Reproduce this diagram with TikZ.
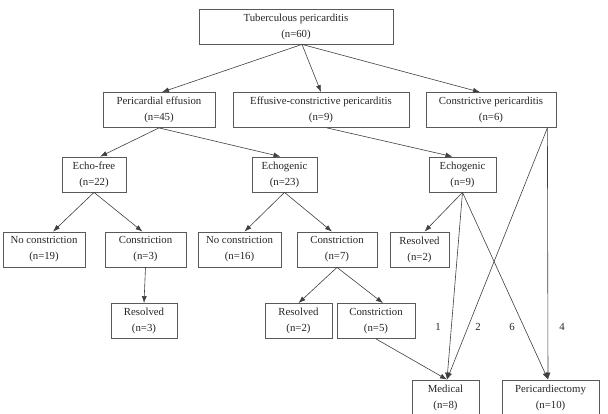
\documentclass[tikz,border=0pt]{standalone}
\usepackage{fontspec}
\setmainfont{Liberation Serif}
\usetikzlibrary{arrows.meta, calc}

\begin{document}
\begin{tikzpicture}[
  x=1pt, y=-1pt,
  box/.style = {draw=black!65, line width=0.8pt, minimum height=35pt, inner sep=1pt, align=center, text=black!85, font=\fontsize{10.8}{16}\selectfont},
  count/.style = {text=black!85, font=\fontsize{10.8}{12}\selectfont},
  arrow/.style = {draw=black!75, line width=0.6pt, -{Latex[length=7pt, width=5pt]}}
]
\path[fill=white, use as bounding box] (0,0) rectangle (608,414);

%--------------------------------------------------
% Diagnosis (top rows)
%--------------------------------------------------
\node[box, minimum width=194pt] (tp) at (296,26.5) {Tuberculous pericarditis\\(n=60)};

\node[box, minimum width=112pt] (pe) at (159,110) {Pericardial effusion\\(n=45)};
\node[box, minimum width=176pt] (ec) at (321,110) {Effusive-constrictive pericarditis\\(n=9)};
\node[box, minimum width=130pt] (cp) at (491,110) {Constrictive pericarditis\\(n=6)};

%--------------------------------------------------
% Echo findings
%--------------------------------------------------
\node[box, minimum width=64pt] (ef) at (94,174.5) {Echo-free\\(n=22)};
\node[box, minimum width=65pt] (eg23) at (284.5,174.5) {Echogenic\\(n=23)};
\node[box, minimum width=67pt] (eg9) at (462.5,174.5) {Echogenic\\(n=9)};

%--------------------------------------------------
% Outcomes
%--------------------------------------------------
\node[box, minimum width=82pt] (nc19) at (44,249.5) {No constriction\\(n=19)};
\node[box, minimum width=81pt] (c3) at (145.5,249.5) {Constriction\\(n=3)};
\node[box, minimum width=83pt] (nc16) at (239.5,249.5) {No constriction\\(n=16)};
\node[box, minimum width=80pt] (c7) at (337,249.5) {Constriction\\(n=7)};
\node[box, minimum width=59pt] (res2a) at (419.5,249.5) {Resolved\\(n=2)};

\node[box, minimum width=66pt] (res3) at (144,321) {Resolved\\(n=3)};
\node[box, minimum width=67pt] (res2b) at (298.5,321) {Resolved\\(n=2)};
\node[box, minimum width=78pt] (c5) at (376,321) {Constriction\\(n=5)};

% treatment
\node[box, minimum width=67pt] (med) at (445.5,397.5) {Medical\\(n=8)};
\node[box, minimum width=97pt] (pcd) at (550.5,397.5) {Pericardiectomy\\(n=10)};

% patient counts on the treatment lines
\node[count] (n1) at (438,327) {1};
\node[count] (n2) at (478,327) {2};
\node[count] (n6) at (512,327) {6};
\node[count] (n4) at (562,327) {4};

%--------------------------------------------------
% Connections
%--------------------------------------------------
\draw[arrow] ([xshift=6pt]tp.south) -- ([xshift=3pt]pe.north);
\draw[arrow] ([xshift=6pt]tp.south) -- (ec.north);
\draw[arrow] ([xshift=6pt]tp.south) -- ([xshift=-11pt]cp.north);

\draw[arrow] (pe.south) -- ([xshift=6pt]ef.north);
\draw[arrow] (pe.south) -- ([xshift=-4pt]eg23.north);
\draw[arrow] ([xshift=6pt]ec.south) -- ([xshift=-10pt]eg9.north);

\draw[arrow] (ef.south) -- ([xshift=9pt]nc19.north);
\draw[arrow] (ef.south) -- ([xshift=-3pt]c3.north);
\draw[arrow] (eg23.south) -- ([xshift=5pt]nc16.north);
\draw[arrow] (eg23.south) -- ([xshift=-5pt]c7.north);
\draw[arrow] (eg9.south) -- ([xshift=5pt]res2a.north);

\draw[arrow] (c3.south) -- (res3.north);
\draw[arrow] (c7.south) -- (res2b.north);
\draw[arrow] (c7.south) -- ([xshift=7pt]c5.north);

% to treatment
\coordinate (cpout) at ([xshift=-9pt]cp.south east);
\draw[arrow] (c5.south) -- ([xshift=1.5pt]med.north);
\draw[arrow] (eg9.south) -- ([xshift=1.5pt]med.north);
\draw[arrow] (eg9.south) -- ([xshift=-2.5pt]pcd.north);
\draw[arrow] (cpout) -- ([xshift=1.5pt]med.north);
\draw[arrow] (cpout) -- ([xshift=-2.5pt]pcd.north);

\end{tikzpicture}
\end{document}
